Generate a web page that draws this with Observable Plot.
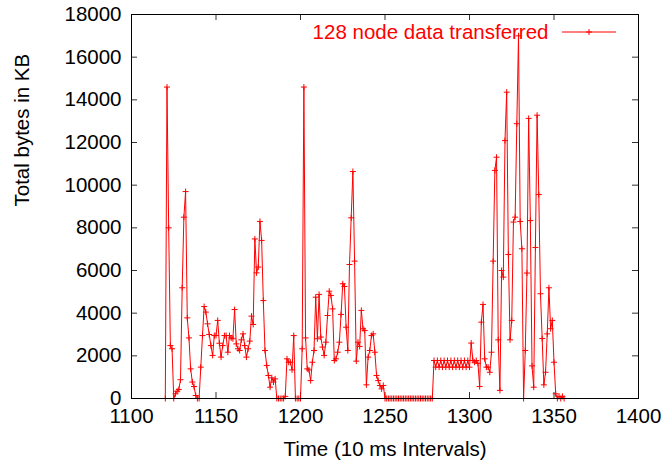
<!DOCTYPE html>
<html><head><meta charset="utf-8">
<script src="https://cdn.jsdelivr.net/npm/d3@7"></script>
<script src="https://cdn.jsdelivr.net/npm/@observablehq/plot@0.6"></script>
<style>body{margin:0;background:#fff;} #chart svg{display:block;}</style>
</head><body><div id="chart"></div>
<script>
const seriesName = "128 node data transferred";
const xLabel = "Time (10 ms Intervals)";
const yLabel = "Total bytes in KB";
const xTicks = [1100, 1150, 1200, 1250, 1300, 1350, 1400];
const yTicks = [0, 2000, 4000, 6000, 8000, 10000, 12000, 14000, 16000, 18000];
const startTime = 1120; // one sample per 10 ms interval
const kb = [
  0, 14600, 8000, 2480, 2330, 0, 220, 340, 420, 880,
  5190, 8500, 9700, 3780, 2840, 1390, 770, 560, 140, 0,
  0, 1470, 2950, 4310, 4050, 3500, 3000, 2480, 2020, 2950,
  2950, 3660, 2590, 1940, 2480, 2950, 2950, 2170, 2950, 2840,
  2800, 4170, 2560, 2330, 2250, 2750, 3030, 2480, 1940, 2330,
  2690, 3860, 3470, 7480, 5890, 6160, 8300, 7410, 4590, 2250,
  1550, 1080, 530, 970, 770, 920, 0, 0, 0, 0,
  0, 100, 1860, 1700, 1700, 1340, 2950, 0, 0, 0,
  0, 2330, 14600, 2840, 1390, 1340, 840, 1700, 2250, 4750,
  2800, 4880, 2880, 2410, 2020, 2640, 3890, 5030, 4830, 4200,
  1780, 1860, 2170, 2640, 3940, 5380, 5250, 3340, 2250, 6280,
  8470, 10640, 6440, 1750, 2640, 2440, 4130, 3270, 3190, 640,
  1940, 2250, 2950, 3030, 2170, 1080, 840, 610, 450, 610,
  0, 0, 0, 0, 0, 0, 0, 0, 0, 0,
  0, 0, 0, 0, 0, 0, 0, 0, 0, 0,
  0, 0, 0, 0, 0, 0, 0, 0, 0, 1780,
  1470, 1780, 1470, 1780, 1470, 1780, 1470, 1780, 1470, 1780,
  1470, 1780, 1470, 1780, 1470, 1780, 1470, 1780, 1470, 1780,
  1470, 2600, 1780, 1700, 1780, 1650, 560, 3580, 4410, 1860,
  1470, 1470, 1230, 2170, 6440, 10690, 11310, 2750, 380, 6000,
  5690, 12090, 14360, 6750, 2750, 3660, 8270, 8500, 12880, 17000,
  8300, 7020, 0, 2250, 5880, 13130, 8340, 1530, 530, 7080,
  13280, 9560, 4910, 2810, 640, 1230, 3030, 5190, 3270, 3660,
  1700, 220, 0, 100, 0, 100, 0
];
const data = kb.map((v, i) => ({t: startTime + i, kb: v}));

const W = 663, H = 464, mL = 131, mR = 25, mT = 14, mB = 66;
const fw = W - mL - mR, fh = H - mT - mB, tl = 6;
const red = "#ff0000";
const fs = 20.5;
const font = "'Liberation Sans', Arial, Helvetica, sans-serif";
const plusSymbol = {
  draw(ctx, size) {
    const r = Math.sqrt(size / Math.PI);
    ctx.moveTo(-r, 0); ctx.lineTo(r, 0);
    ctx.moveTo(0, -r); ctx.lineTo(0, r);
  }
};

const chart = Plot.plot({
  width: W, height: H,
  marginLeft: mL, marginRight: mR, marginTop: mT, marginBottom: mB,
  style: {fontFamily: font, fontSize: fs + "px", color: "#000", background: "#fff"},
  x: {domain: [1100, 1400], ticks: xTicks, tickSize: 0, tickPadding: 10, tickFormat: d => String(d), label: null},
  y: {domain: [0, 18000], ticks: yTicks, tickSize: 0, tickPadding: 10, tickFormat: d => String(d), label: null},
  marks: [
    Plot.tickX(xTicks, {insetTop: fh - tl, stroke: "#333"}),
    Plot.tickX(xTicks, {insetBottom: fh - tl, stroke: "#333"}),
    Plot.tickY(yTicks, {insetRight: fw - tl, stroke: "#333"}),
    Plot.tickY(yTicks, {insetLeft: fw - tl, stroke: "#333"}),
    Plot.line(data, {x: "t", y: "kb", stroke: red, strokeWidth: 1}),
    Plot.dot(data, {x: "t", y: "kb", symbol: plusSymbol, r: 3, stroke: red, fill: "none", strokeWidth: 1}),
    Plot.frame({stroke: "#000", strokeWidth: 1}),
    Plot.text([seriesName], {frameAnchor: "top-right", dx: -90, dy: 18, lineAnchor: "middle", textAnchor: "end", fill: red, fontSize: fs}),
    Plot.text([yLabel], {frameAnchor: "left", dx: -109, lineAnchor: "middle", rotate: -90, fill: "#000", fontSize: fs}),
    Plot.text([xLabel], {frameAnchor: "bottom", dy: 51, lineAnchor: "middle", fill: "#000", fontSize: fs})
  ]
});
document.getElementById("chart").appendChild(chart);

// legend line sample with marker
const svg = d3.select(chart);
const ly = mT + 18;
const lx1 = W - mR - 76, lx2 = W - mR - 22, lxm = (lx1 + lx2) / 2;
const g = svg.append("g").attr("stroke", red).attr("stroke-width", 1).attr("fill", "none");
g.append("line").attr("x1", lx1).attr("x2", lx2).attr("y1", ly).attr("y2", ly);
g.append("path").attr("d", `M${lxm - 3},${ly}H${lxm + 3}M${lxm},${ly - 3}V${ly + 3}`);
</script>
</body></html>
